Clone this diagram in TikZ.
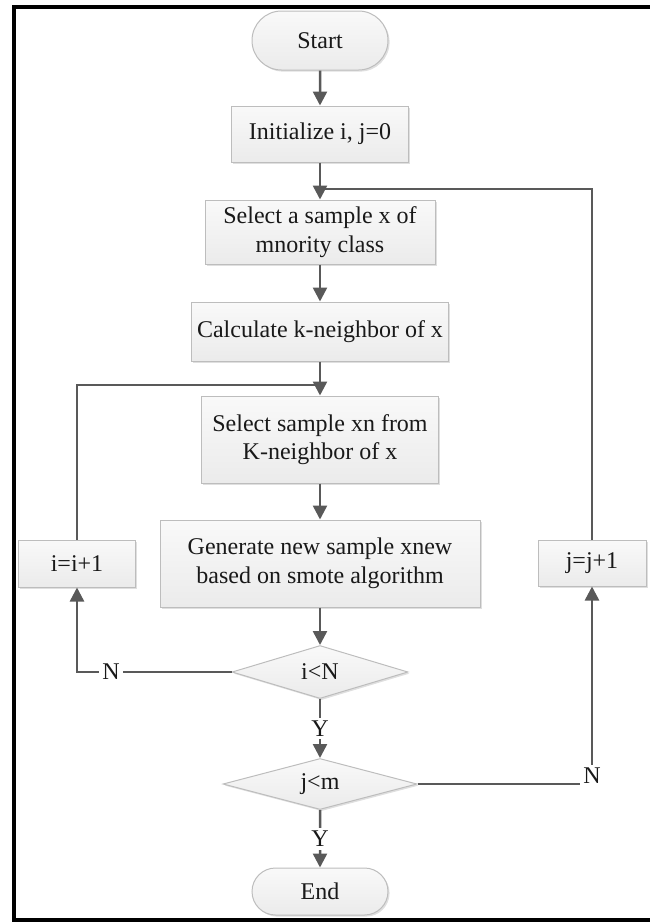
\documentclass[tikz,border=0pt]{standalone}
\usepackage{fontspec}
\setmainfont{Liberation Serif}
\usetikzlibrary{arrows.meta,shapes.geometric,shapes.misc,shadows}
\definecolor{linegray}{HTML}{595959}
\definecolor{boxedge}{HTML}{BDBDBD}
\definecolor{boxtop}{HTML}{F9F9F9}
\definecolor{boxbot}{HTML}{EBEBEB}

\begin{document}
\begin{tikzpicture}[x=0.5pt,y=-0.5pt,
	font=\fontsize{12}{14.3}\selectfont,
	shade box/.style={draw=boxedge,line width=0.5pt,top color=boxtop,bottom color=boxbot,
		drop shadow={opacity=0.25,shadow xshift=0.8pt,shadow yshift=-0.8pt},text=black!90},
	proc/.style={shade box,rectangle,align=center,inner sep=2pt},
	term/.style={shade box,rounded rectangle,minimum width=72pt,inner sep=2pt},
	test/.style={shade box,diamond,aspect=3,inner sep=0pt},
	flow/.style={draw=linegray,line width=1.25pt,-{Triangle[length=7pt,width=7pt]}},
	link/.style={draw=linegray,line width=1.25pt},
	tag/.style={fill=white,inner sep=1.5pt,text=black!90}]

	\useasboundingbox (0,0) rectangle (649,922);
	% outer frame
	\draw[line width=2pt] (700,7) -- (14,7) -- (14,920) -- (700,920);

	\node[term,minimum height=29.5pt] (start) at (320,40.5) {Start};
	\node[proc,minimum width=88.5pt,minimum height=28pt] (init) at (320,134) {Initialize i, j=0};
	\node[proc,minimum width=115pt,minimum height=32pt] (selx) at (320,232) {Select a sample x of\\mnority class};
	\node[proc,minimum width=128.5pt,minimum height=29.5pt] (calc) at (320,331.5) {Calculate k-neighbor of x};
	\node[proc,minimum width=118.5pt,minimum height=43.5pt] (selxn) at (320,439.5) {Select sample xn from\\K-neighbor of x};
	\node[proc,minimum width=160pt,minimum height=43.5pt] (gen) at (320,563.5) {Generate new sample xnew\\based on smote algorithm};
	\node[proc,minimum width=58.5pt,minimum height=23.5pt] (inci) at (77,563.5) {i=i+1};
	\node[proc,minimum width=54pt,minimum height=23pt] (incj) at (592,563) {j=j+1};
	\node[test,minimum width=88pt,minimum height=26.5pt] (ltN) at (320,672) {i<N};
	\node[test,minimum width=97pt,minimum height=25.5pt] (ltm) at (320,784) {j<m};
	\node[term,minimum height=23.5pt] (end) at (320,891.5) {End};

	\coordinate (jjoin) at (320,189);
	\coordinate (ijoin) at (320,385);

	\draw[flow] (start) -- (init);
	\draw[flow] (init) -- (selx);
	\draw[flow] (selx) -- (calc);
	\draw[flow] (calc) -- (selxn);
	\draw[flow] (selxn) -- (gen);
	\draw[flow] (gen) -- (ltN);
	\draw[flow] (ltN) -- node[tag]{Y} (ltm);
	\draw[flow] (ltm) -- node[tag]{Y} (end);

	% loops back
	\draw[flow] (ltN.west) -| node[tag,pos=0.39]{N} (inci);
	\draw[link] (inci) |- (ijoin);
	\draw[flow] (ltm.east) -| node[tag,pos=0.5,yshift=4pt]{N} (incj);
	\draw[link] (incj) |- (jjoin);
\end{tikzpicture}
\end{document}
